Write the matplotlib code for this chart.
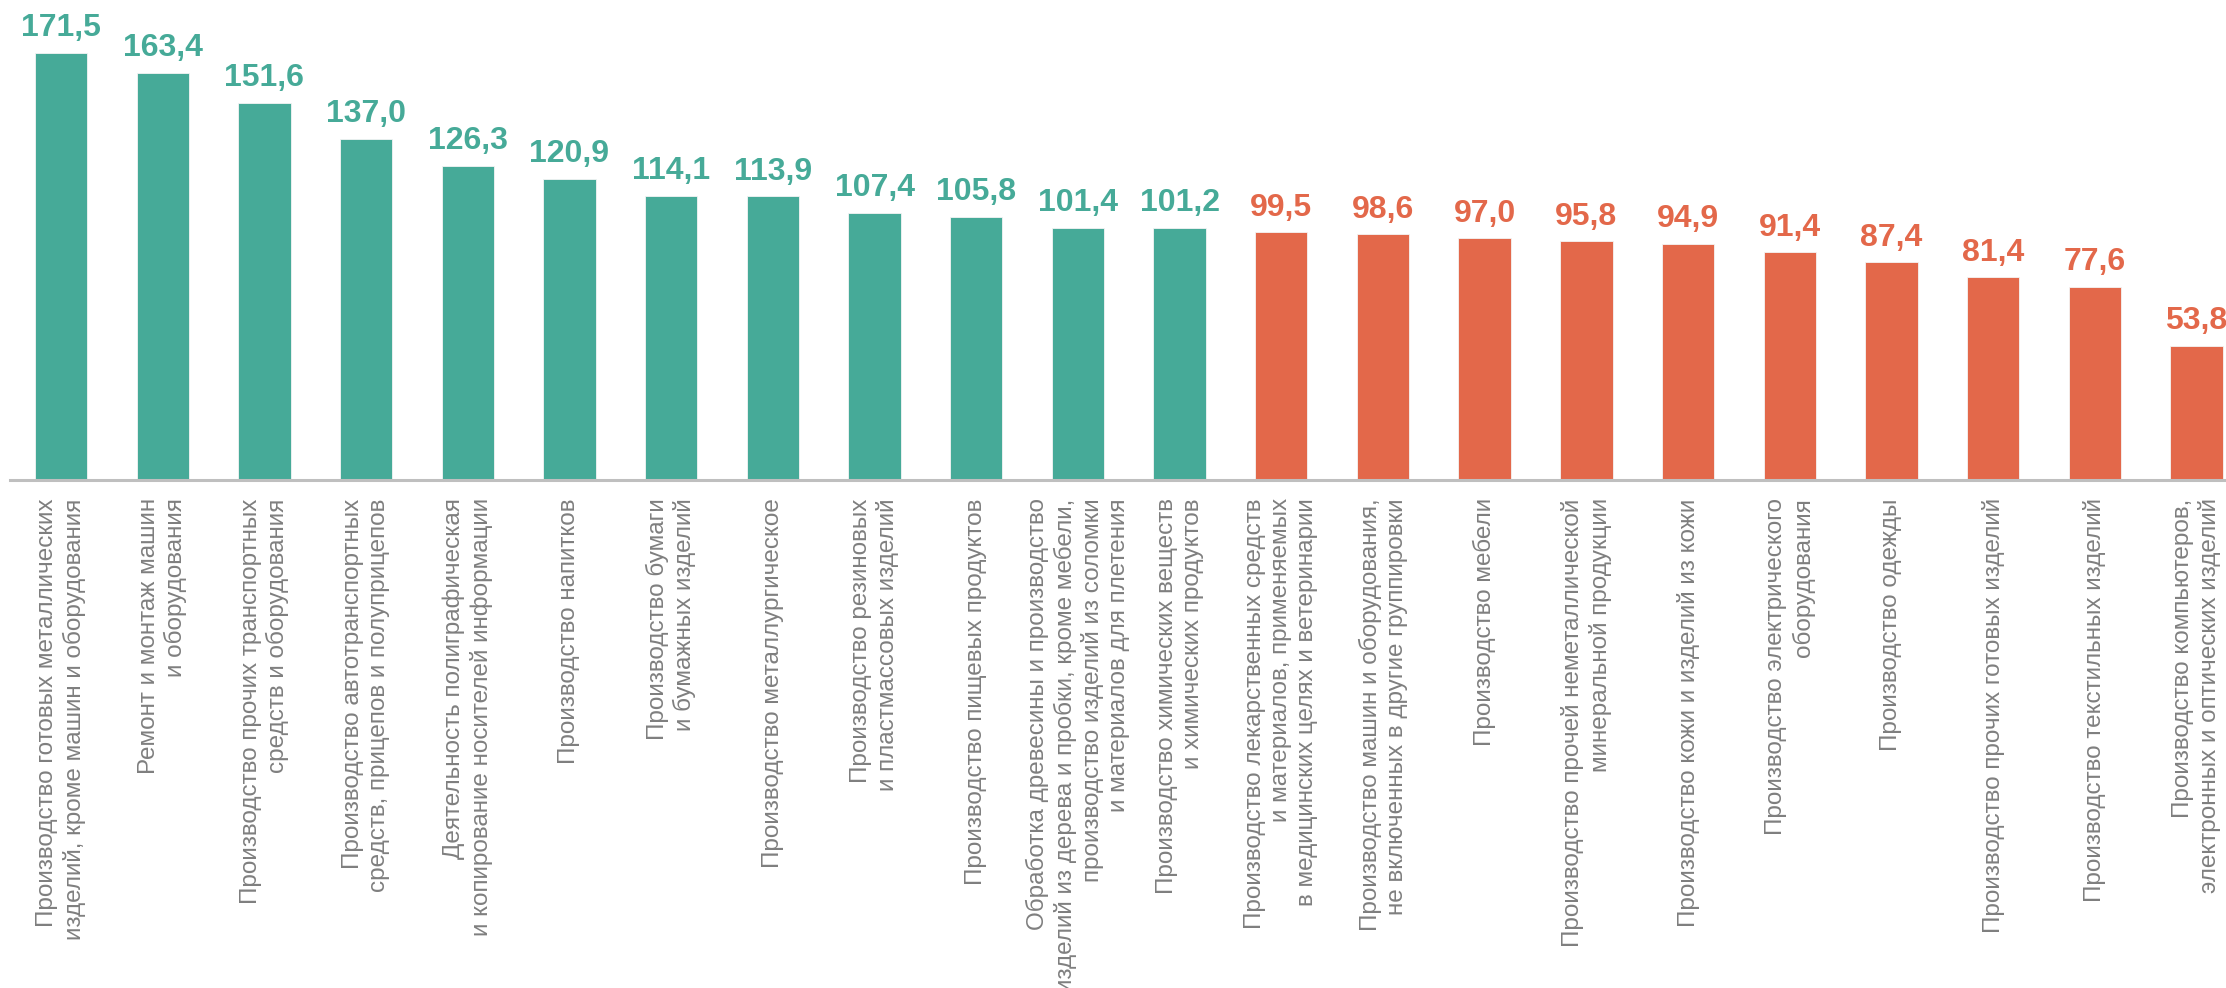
import matplotlib
matplotlib.use("Agg")
import matplotlib.pyplot as plt

# Industry production indices, sorted descending
categories = [
    "Производство готовых металлических\nизделий, кроме машин и оборудования",
    "Ремонт и монтаж машин\nи оборудования",
    "Производство прочих транспортных\nсредств и оборудования",
    "Производство автотранспортных\nсредств, прицепов и полуприцепов",
    "Деятельность полиграфическая\nи копирование носителей информации",
    "Производство напитков",
    "Производство бумаги\nи бумажных изделий",
    "Производство металлургическое",
    "Производство резиновых\nи пластмассовых изделий",
    "Производство пищевых продуктов",
    "Обработка древесины и производство\nизделий из дерева и пробки, кроме мебели,\nпроизводство изделий из соломки\nи материалов для плетения",
    "Производство химических веществ\nи химических продуктов",
    "Производство лекарственных средств\nи материалов, применяемых\nв медицинских целях и ветеринарии",
    "Производство машин и оборудования,\nне включенных в другие группировки",
    "Производство мебели",
    "Производство прочей неметаллической\nминеральной продукции",
    "Производство кожи и изделий из кожи",
    "Производство электрического\nоборудования",
    "Производство одежды",
    "Производство прочих готовых изделий",
    "Производство текстильных изделий",
    "Производство компьютеров,\nэлектронных и оптических изделий",
]
values = [171.5, 163.4, 151.6, 137.0, 126.3, 120.9, 114.1, 113.9, 107.4, 105.8,
          101.4, 101.2, 99.5, 98.6, 97.0, 95.8, 94.9, 91.4, 87.4, 81.4, 77.6, 53.8]
threshold = 100.0

GROWTH = "#46AA98"
DECLINE = "#E3684A"
TEXT_GRAY = "#7F7F7F"
AXIS_GRAY = "#BFBFBF"

plt.rcParams["font.family"] = ["Liberation Sans", "DejaVu Sans"]

W, H, DPI = 2226, 988, 100
fig = plt.figure(figsize=(W / DPI, H / DPI), dpi=DPI)
fig.patch.set_facecolor("white")

base_px = 480
ax = fig.add_axes([10 / W, (H - base_px) / H, 1 - 10 / W, base_px / H])

colors = [GROWTH if v >= threshold else DECLINE for v in values]
x = list(range(len(values)))
bars = ax.bar(x, values, width=0.515, color=colors, edgecolor="#F4F4F4",
              linewidth=0.6, zorder=2)

for xi, v, c in zip(x, values, colors):
    ax.annotate(f"{v:.1f}".replace(".", ","), xy=(xi, v), xytext=(0, 12),
                textcoords="offset points", ha="center", va="baseline",
                fontsize=23, fontweight="bold", color=c, clip_on=False,
                annotation_clip=False)

ax.set_xlim(-0.5016, 21.29)
ax.set_ylim(0, base_px / 2.49)

ax.set_xticks(x)
ax.set_xticklabels(categories, rotation=90, ha="center", va="top",
                   multialignment="right", fontsize=17.5, color=TEXT_GRAY,
                   linespacing=1.24)
ax.tick_params(axis="x", length=0, pad=13.2)
ax.set_yticks([])

for side in ("top", "right", "left"):
    ax.spines[side].set_visible(False)
ax.spines["bottom"].set_color(AXIS_GRAY)
ax.spines["bottom"].set_linewidth(2.2)
ax.spines["bottom"].set_zorder(3)

fig.savefig("out.png", dpi=DPI, facecolor="white")
